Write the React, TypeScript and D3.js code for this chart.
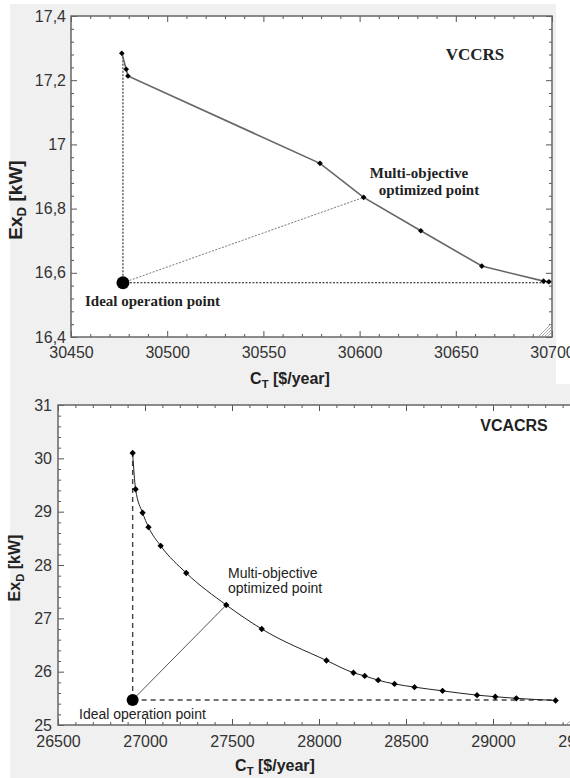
import React, { useEffect, useRef } from "react";
import * as d3 from "d3";

// VCCRS (top panel): total cost vs exergy destruction on the Pareto front
const vccrsCost = [30476.4, 30478.7, 30479.6, 30579.4, 30602.1, 30631.8, 30663.5, 30695.6, 30698.4];
const vccrsExd = [17.284, 17.234, 17.213, 16.941, 16.835, 16.731, 16.621, 16.574, 16.572];
const vccrsIdeal = [30477, 16.569];
const vccrsOptIndex = 4;
const vccrsXTicks = [30450, 30500, 30550, 30600, 30650, 30700];
const vccrsYTicks = [16.4, 16.6, 16.8, 17, 17.2, 17.4];

// VCACRS (bottom panel)
const vcacrsCost = [
  26929, 26946, 26986, 27020, 27090, 27237, 27467, 27671, 28043, 28198,
  28263, 28340, 28434, 28549, 28710, 28908, 29013, 29134, 29360,
];
const vcacrsExd = [
  30.1, 29.42, 28.98, 28.71, 28.36, 27.85, 27.25, 26.8, 26.21, 25.98,
  25.92, 25.84, 25.77, 25.71, 25.64, 25.56, 25.53, 25.5, 25.46,
];
const vcacrsIdeal = [26929, 25.47];
const vcacrsOptIndex = 6;
const vcacrsXTicks = [26500, 27000, 27500, 28000, 28500, 29000, 29500];
const vcacrsYTicks = [25, 26, 27, 28, 29, 30, 31];

const sans = "'Liberation Sans', Arial, sans-serif";
const serif = "'Liberation Serif', 'Times New Roman', serif";

const commaFmt = (v) => (Number.isInteger(v) ? String(v) : v.toFixed(1).replace(".", ","));

function subdivide(ticks, n) {
  const out = [];
  for (let i = 0; i < ticks.length - 1; i++) {
    const step = (ticks[i + 1] - ticks[i]) / n;
    for (let k = 1; k < n; k++) out.push(ticks[i] + k * step);
  }
  return out;
}

function drawPanel(svg, p) {
  const x = d3.scaleLinear().domain([p.xTicks[0], p.xTicks[p.xTicks.length - 1]]).range([p.left, p.right]);
  const y = d3.scaleLinear().domain([p.yTicks[0], p.yTicks[p.yTicks.length - 1]]).range([p.bottom, p.top]);
  const g = svg.append("g");

  g.append("rect")
    .attr("x", p.left)
    .attr("y", p.top)
    .attr("width", p.right - p.left)
    .attr("height", p.bottom - p.top)
    .attr("fill", "#fff");

  const xMinor = subdivide(p.xTicks, 5);
  const yMinor = subdivide(p.yTicks, 5);

  const styleAxis = (sel) => {
    sel.select(".domain").remove();
    sel.selectAll("line").attr("stroke", "#555");
    sel.attr("font-family", sans).attr("font-size", 16).attr("color", "#333");
  };

  // bottom + left with labels
  g.append("g")
    .attr("transform", `translate(0,${p.bottom})`)
    .call(d3.axisBottom(x).tickValues(p.xTicks).tickSize(-6).tickPadding(p.xPad).tickFormat(p.fmtX))
    .call(styleAxis);
  g.append("g")
    .attr("transform", `translate(${p.left},0)`)
    .call(d3.axisLeft(y).tickValues(p.yTicks).tickSize(-6).tickPadding(p.yPad).tickFormat(p.fmtY))
    .call(styleAxis);
  // top + right, ticks only
  g.append("g")
    .attr("transform", `translate(0,${p.top})`)
    .call(d3.axisTop(x).tickValues(p.xTicks).tickSize(-6).tickFormat(() => ""))
    .call(styleAxis);
  g.append("g")
    .attr("transform", `translate(${p.right},0)`)
    .call(d3.axisRight(y).tickValues(p.yTicks).tickSize(-6).tickFormat(() => ""))
    .call(styleAxis);
  // minor ticks on all sides
  [
    [d3.axisBottom(x).tickValues(xMinor), `translate(0,${p.bottom})`],
    [d3.axisTop(x).tickValues(xMinor), `translate(0,${p.top})`],
    [d3.axisLeft(y).tickValues(yMinor), `translate(${p.left},0)`],
    [d3.axisRight(y).tickValues(yMinor), `translate(${p.right},0)`],
  ].forEach(([ax, tr]) => {
    g.append("g").attr("transform", tr).call(ax.tickSize(-3).tickFormat(() => "")).call(styleAxis);
  });

  g.append("rect")
    .attr("x", p.left)
    .attr("y", p.top)
    .attr("width", p.right - p.left)
    .attr("height", p.bottom - p.top)
    .attr("fill", "none")
    .attr("stroke", "#666")
    .attr("stroke-width", 1.5);

  // resize grip in the corner
  [4, 7, 10, 13].forEach((k) => {
    g.append("line")
      .attr("x1", p.right - k)
      .attr("y1", p.bottom - 1)
      .attr("x2", p.right - 1)
      .attr("y2", p.bottom - k)
      .attr("stroke", "#aaa")
      .attr("stroke-width", 1);
  });

  const pts = p.cost.map((c, i) => [c, p.exd[i]]);
  const [ix, iy] = p.ideal;
  const opt = pts[p.optIndex];

  // guide lines from the ideal point
  g.append("line")
    .attr("x1", x(ix)).attr("y1", y(iy))
    .attr("x2", x(ix)).attr("y2", y(pts[0][1]))
    .attr("stroke", p.guideColor).attr("stroke-width", p.guideWidth).attr("stroke-dasharray", p.guideDash);
  g.append("line")
    .attr("x1", x(ix)).attr("y1", y(iy))
    .attr("x2", x(pts[pts.length - 1][0])).attr("y2", y(iy))
    .attr("stroke", p.guideColor).attr("stroke-width", p.guideWidth).attr("stroke-dasharray", p.guideDash);
  g.append("line")
    .attr("x1", x(ix)).attr("y1", y(iy))
    .attr("x2", x(opt[0])).attr("y2", y(opt[1]))
    .attr("stroke", p.optColor).attr("stroke-width", 1).attr("stroke-dasharray", p.optDash);

  const line = d3.line().x((d) => x(d[0])).y((d) => y(d[1])).curve(p.curve);
  g.append("path")
    .attr("d", line(pts))
    .attr("fill", "none")
    .attr("stroke", p.curveColor)
    .attr("stroke-width", p.curveWidth);

  const sym = d3.symbol().type(d3.symbolSquare).size(p.dotSize);
  g.selectAll("path.dot")
    .data(pts)
    .join("path")
    .attr("class", "dot")
    .attr("d", sym)
    .attr("transform", (d) => `translate(${x(d[0])},${y(d[1])}) rotate(45)`)
    .attr("fill", "#000");

  g.append("circle").attr("cx", x(ix)).attr("cy", y(iy)).attr("r", p.idealR).attr("fill", "#000");

  p.notes.forEach((n) => {
    g.append("text")
      .attr("x", n.x)
      .attr("y", n.y)
      .attr("text-anchor", n.anchor || "start")
      .attr("font-family", n.font)
      .attr("font-size", n.size)
      .attr("font-weight", n.weight || "normal")
      .attr("fill", n.color || "#222")
      .text(n.text);
  });

  // axis titles
  const xt = g.append("text")
    .attr("x", p.xTitle[0])
    .attr("y", p.xTitle[1])
    .attr("text-anchor", "middle")
    .attr("font-family", sans)
    .attr("font-size", p.xTitle[2])
    .attr("font-weight", "bold")
    .attr("fill", "#222");
  xt.append("tspan").text("C");
  xt.append("tspan").attr("dy", 4).attr("font-size", p.xTitle[2] * 0.7).text("T");
  xt.append("tspan").attr("dy", -4).text("  [$/year]");

  const yt = g.append("text")
    .attr("transform", `translate(${p.yTitle[0]},${p.yTitle[1]}) rotate(-90)`)
    .attr("text-anchor", "middle")
    .attr("font-family", sans)
    .attr("font-size", p.yTitle[2])
    .attr("font-weight", "bold")
    .attr("fill", "#222");
  yt.append("tspan").text("Ex");
  yt.append("tspan").attr("dy", 4).attr("font-size", p.yTitle[2] * 0.7).text("D");
  yt.append("tspan").attr("dy", -4).text("  [kW]");
}

export default function App() {
  const ref = useRef(null);

  useEffect(() => {
    const svg = d3.select(ref.current);
    svg.selectAll("*").remove();
    svg.append("rect").attr("width", 570).attr("height", 778).attr("fill", "#fff");
    svg.append("rect").attr("x", 10).attr("y", 4).attr("width", 546).attr("height", 380).attr("fill", "#f0f0f0");
    svg.append("rect").attr("x", 10).attr("y", 384).attr("width", 560).attr("height", 394).attr("fill", "#f0f0f0");

    drawPanel(svg, {
      cost: vccrsCost,
      exd: vccrsExd,
      ideal: vccrsIdeal,
      optIndex: vccrsOptIndex,
      xTicks: vccrsXTicks,
      yTicks: vccrsYTicks,
      left: 71,
      right: 552,
      top: 16,
      bottom: 337,
      xPad: 10,
      yPad: 5,
      fmtX: (v) => String(v),
      fmtY: commaFmt,
      curve: d3.curveLinear,
      curveColor: "#666",
      curveWidth: 1.6,
      guideColor: "#111",
      guideWidth: 1,
      guideDash: "2,1.5",
      optColor: "#777",
      optDash: "2,1.5",
      dotSize: 16,
      idealR: 6.5,
      xTitle: [290, 384, 16],
      yTitle: [22, 200, 19],
      notes: [
        { text: "VCCRS", x: 475, y: 60, anchor: "middle", font: serif, size: 17, weight: "bold" },
        { text: "Multi-objective", x: 419, y: 178, anchor: "middle", font: serif, size: 15, weight: "bold" },
        { text: "optimized point", x: 429, y: 195, anchor: "middle", font: serif, size: 15, weight: "bold" },
        { text: "Ideal operation point", x: 85, y: 306, font: serif, size: 15, weight: "bold" },
      ],
    });

    drawPanel(svg, {
      cost: vcacrsCost,
      exd: vcacrsExd,
      ideal: vcacrsIdeal,
      optIndex: vcacrsOptIndex,
      xTicks: vcacrsXTicks,
      yTicks: vcacrsYTicks,
      left: 58,
      right: 580,
      top: 405,
      bottom: 725,
      xPad: 11,
      yPad: 6,
      fmtX: (v) => String(v),
      fmtY: (v) => String(v),
      curve: d3.curveMonotoneX,
      curveColor: "#222",
      curveWidth: 1,
      guideColor: "#444",
      guideWidth: 1.4,
      guideDash: "5,4",
      optColor: "#555",
      optDash: null,
      dotSize: 20,
      idealR: 6,
      xTitle: [275, 771, 16],
      yTitle: [20, 568, 16],
      notes: [
        { text: "VCACRS", x: 514, y: 431, anchor: "middle", font: sans, size: 16, weight: "bold" },
        { text: "Multi-objective", x: 228, y: 578, font: sans, size: 14 },
        { text: "optimized point", x: 228, y: 593, font: sans, size: 14 },
        { text: "Ideal operation point", x: 79, y: 719, font: sans, size: 14 },
      ],
    });
  }, []);

  return (
    <svg
      ref={ref}
      width={570}
      height={778}
      style={{ position: "absolute", left: 0, top: 0, overflow: "hidden" }}
    />
  );
}
